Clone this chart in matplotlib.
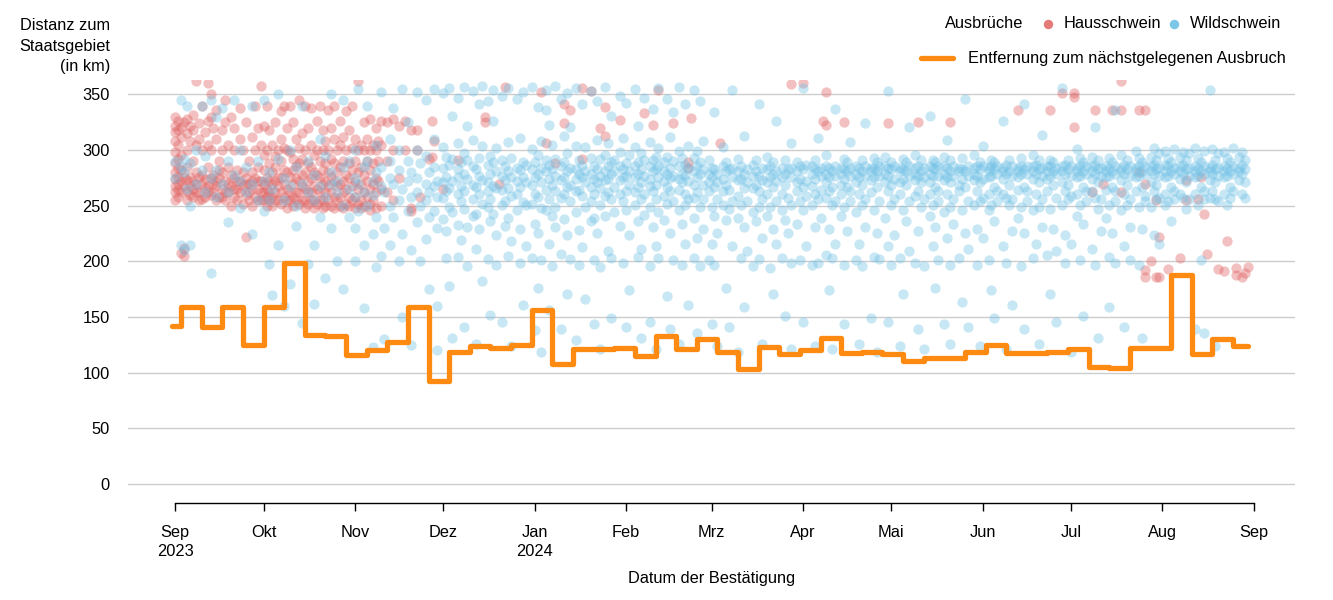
import matplotlib
matplotlib.use("Agg")
import matplotlib.pyplot as plt
import matplotlib.dates as mdates
from matplotlib.lines import Line2D
import pandas as pd

plt.rcParams['font.family'] = ['Liberation Sans', 'DejaVu Sans']

# Tag 0 = 1. September 2023
start = pd.Timestamp('2023-09-01')

# Ausbrüche Hausschwein: Tag -> Distanzen (km)
haus = {
    0: [330, 322, 316, 308, 298, 288, 280, 274, 268, 262, 255],
    1: [326, 318, 305, 292, 284, 276, 270, 264, 258],
    2: [321, 312, 296, 282, 272, 262, 208],
    3: [325, 276, 268, 212, 205],
    4: [328, 315, 300, 285, 273, 263, 255],
    5: [322, 308, 276, 268, 260],
    6: [332, 318, 290, 272, 265, 258],
    7: [305, 280, 270, 262, 362],
    8: [324, 310, 276, 262, 255],
    9: [340, 300, 278, 270, 256],
    10: [316, 274, 266, 258],
    11: [326, 305, 285, 268, 262, 360],
    12: [350, 330, 300, 275, 260],
    13: [320, 278, 262, 270],
    14: [336, 310, 272, 268, 255],
    15: [290, 275, 258, 282],
    16: [318, 300, 280, 265, 258],
    17: [345, 325, 272, 255, 262],
    18: [305, 285, 262, 270],
    19: [330, 278, 268, 250],
    20: [320, 300, 275, 258, 265],
    21: [282, 265, 255, 272],
    22: [338, 310, 272, 262],
    23: [300, 280, 268, 252],
    24: [325, 275, 260, 270, 222],
    25: [290, 270, 255, 262],
    26: [312, 280, 265, 250, 272],
    27: [340, 300, 275, 258],
    28: [320, 285, 265, 272, 255],
    29: [305, 272, 255, 262, 358],
    30: [322, 296, 282, 270, 262, 255],
    31: [340, 300, 275, 265, 258, 250],
    32: [318, 288, 272, 262, 255],
    33: [305, 280, 270, 258, 250],
    34: [325, 295, 285, 272, 262, 255],
    35: [300, 276, 268, 255],
    36: [335, 310, 290, 275, 262, 252],
    37: [340, 302, 282, 270, 258],
    38: [320, 300, 280, 265, 255, 248],
    39: [340, 298, 276, 262, 255],
    40: [325, 292, 282, 270, 258, 250],
    41: [310, 286, 275, 262, 255],
    42: [345, 302, 288, 272, 262, 252],
    43: [315, 292, 278, 268, 255],
    44: [340, 300, 280, 265, 255, 248],
    45: [320, 288, 272, 262, 252],
    46: [338, 305, 285, 275, 262, 255],
    47: [296, 280, 268, 255, 248],
    48: [326, 300, 278, 265, 252],
    49: [340, 290, 275, 262, 255],
    50: [318, 300, 282, 270, 255, 248],
    51: [308, 288, 272, 262, 250],
    52: [336, 300, 280, 268, 255],
    53: [320, 292, 276, 262, 250],
    54: [340, 310, 288, 272, 258, 248],
    55: [300, 280, 268, 255],
    56: [326, 305, 285, 270, 258, 250],
    57: [312, 290, 272, 262, 248],
    58: [335, 300, 278, 265, 252],
    59: [318, 288, 275, 258, 250],
    60: [340, 302, 282, 268, 255],
    61: [310, 290, 272, 258, 248],
    62: [362, 300, 280, 265, 252],
    63: [305, 285, 270, 255, 248],
    64: [325, 300, 278, 262, 250],
    65: [310, 290, 272, 258],
    66: [328, 300, 282, 265, 252, 246],
    67: [305, 288, 270, 255],
    68: [320, 300, 275, 262, 248],
    69: [308, 290, 272],
    70: [326, 305, 265, 250],
    72: [325, 290, 262],
    74: [328, 300, 255],
    76: [322, 275],
    78: [326, 300],
    80: [318, 248, 245],
    82: [318, 300],
    83: [258],
    86: [292],
    87: [326, 294],
    88: [308],
    91: [265],
    96: [291],
    105: [330, 325],
    110: [270],
    112: [357],
    124: [352],
    126: [306],
    129: [288],
    132: [341, 324],
    134: [336],
    138: [356, 292],
    141: [353],
    144: [320],
    146: [339, 313],
    151: [327],
    159: [333],
    162: [323],
    164: [354],
    169: [324],
    174: [289, 284],
    175: [329],
    185: [306],
    209: [359],
    213: [360],
    220: [326],
    221: [323, 352],
    227: [325],
    242: [324],
    252: [325],
    263: [325],
    286: [336],
    297: [336],
    301: [351],
    305: [351, 348, 321],
    311: [262],
    312: [336],
    315: [270],
    318: [336],
    321: [336, 362, 262],
    327: [336, 280],
    329: [336, 270, 192, 186],
    331: [200],
    333: [255, 186],
    334: [222, 186],
    337: [193],
    341: [203],
    343: [273, 255],
    347: [256],
    348: [276],
    349: [243],
    350: [207],
    354: [193],
    356: [191],
    357: [218],
    360: [194, 188],
    362: [186],
    363: [190],
    364: [195],
}

# Ausbrüche Wildschwein: Tag -> Distanzen (km)
wild = {
    0: [275, 290], 2: [285, 345, 215], 3: [292, 280, 210], 4: [265, 340],
    5: [288, 215, 250], 7: [300, 270], 9: [282, 340], 10: [262, 295],
    12: [345, 275, 190], 14: [282, 258, 330], 16: [338, 270], 18: [290, 235, 262],
    20: [345, 278], 22: [272, 300, 248], 24: [285, 262], 26: [340, 270, 225],
    28: [290, 255], 30: [345, 272, 245], 32: [280, 198, 255], 33: [265, 170],
    35: [292, 350, 215], 37: [275, 255, 160], 39: [300, 268, 180], 41: [285, 250, 232],
    43: [340, 270, 145], 45: [262, 290, 198], 47: [278, 255, 215, 162], 49: [310, 268, 240],
    51: [295, 258, 185], 53: [350, 280, 270, 230], 55: [272, 262, 200], 57: [345, 285, 250, 175],
    59: [290, 265, 240],
    61: [300, 275, 258, 230, 200], 62: [355, 270, 245], 64: [285, 262, 215, 158],
    65: [340, 290, 250], 67: [272, 260, 225, 123], 68: [305, 280, 240, 195],
    70: [352, 285, 268, 205], 71: [262, 230, 130], 73: [310, 290, 275, 250, 215],
    74: [338, 270, 240], 76: [300, 282, 255, 200], 77: [355, 265, 225, 150],
    79: [325, 290, 272, 245], 80: [280, 258, 210, 125], 82: [352, 300, 275, 262, 235],
    83: [288, 250, 200], 85: [345, 295, 270, 255, 220], 86: [280, 262, 240, 175],
    88: [355, 310, 285, 268, 245], 89: [272, 258, 230, 160, 120],
    91: [351, 303, 284, 271, 257, 238], 92: [294, 276, 263, 227, 203],
    93: [356, 287, 266, 249, 178], 94: [331, 292, 272, 244, 131],
    96: [347, 306, 283, 276, 261, 233, 204], 97: [289, 268, 254, 219],
    98: [357, 297, 279, 263, 247, 141], 99: [322, 291, 274, 231, 196],
    101: [353, 309, 286, 269, 256, 241], 102: [283, 267, 243, 211, 126],
    103: [341, 293, 277, 261, 229], 104: [358, 304, 273, 252, 182],
    106: [344, 287, 271, 263, 249, 202], 107: [295, 279, 256, 236, 152],
    108: [354, 326, 289, 268, 243], 109: [302, 281, 266, 224, 197],
    111: [349, 291, 277, 264, 251, 146], 112: [286, 273, 254, 232],
    113: [356, 307, 281, 266, 239, 205], 114: [293, 276, 259, 218, 124],
    116: [346, 284, 272, 261, 246], 117: [311, 282, 267, 229, 199],
    118: [352, 289, 276, 253, 161], 119: [287, 271, 251, 214],
    121: [357, 301, 283, 269, 252, 203], 122: [289, 276, 261, 234, 138],
    123: [339, 296, 279, 258, 226, 176], 124: [308, 284, 271, 248, 201, 119],
    126: [354, 336, 291, 281, 264, 246], 127: [323, 287, 274, 256, 216, 156],
    128: [305, 283, 269, 241, 196], 129: [358, 292, 277, 263, 249, 231],
    131: [346, 286, 273, 257, 207, 139], 132: [313, 289, 276, 261, 238],
    133: [351, 297, 281, 267, 224, 171], 134: [321, 284, 269, 254, 202],
    136: [356, 304, 283, 274, 263, 244, 129], 137: [291, 279, 264, 228, 197],
    138: [341, 287, 276, 259, 213], 139: [303, 281, 271, 249, 166],
    141: [353, 293, 279, 267, 254, 236], 142: [286, 274, 261, 239, 201, 144],
    143: [344, 309, 283, 271, 226], 144: [292, 277, 266, 251, 195, 121],
    146: [357, 296, 281, 273, 259, 241], 147: [306, 286, 274, 262, 209],
    148: [331, 289, 279, 256, 203, 149], 149: [291, 281, 267, 244],
    151: [349, 298, 286, 273, 261, 232], 152: [311, 283, 276, 254, 199],
    153: [342, 288, 277, 263, 246, 141], 154: [296, 281, 269, 224, 174],
    156: [355, 303, 286, 276, 262, 251], 157: [322, 289, 279, 267, 236, 204],
    158: [297, 283, 271, 256, 211, 131], 159: [347, 291, 277, 261, 242],
    161: [307, 286, 274, 268, 249, 196, 146], 162: [337, 291, 281, 263, 231],
    163: [294, 283, 269, 256, 214, 121], 164: [356, 302, 286, 276, 244, 203],
    166: [289, 281, 272, 259, 237], 167: [346, 294, 279, 267, 252, 169],
    168: [312, 284, 275, 263, 226, 139], 169: [334, 290, 277, 254, 201],
    171: [357, 299, 286, 274, 264, 246, 126], 172: [293, 279, 271, 234, 197],
    173: [341, 287, 278, 261, 251, 216], 174: [304, 284, 272, 256, 161],
    176: [354, 293, 281, 269, 257, 239, 203], 177: [299, 286, 276, 262, 221, 136],
    178: [344, 289, 279, 249, 196], 179: [308, 283, 269, 256, 229],
    181: [291, 279, 271, 263, 201], 182: [284, 276, 249, 216, 144],
    183: [334, 283, 267, 241, 197], 184: [279, 271, 256, 226, 124],
    186: [303, 286, 274, 263, 251], 187: [289, 281, 269, 237, 176],
    188: [283, 264, 247, 141], 189: [354, 284, 276, 254, 214],
    191: [292, 281, 273, 259, 239, 119], 192: [286, 274, 251, 203],
    193: [313, 279, 266, 231, 159], 194: [283, 271, 254, 209],
    196: [287, 277, 266, 244, 196], 197: [291, 281, 269, 236],
    198: [341, 277, 263, 249, 202], 199: [284, 273, 256, 221, 126],
    201: [294, 283, 271, 261, 241], 202: [286, 276, 249, 194],
    203: [289, 279, 267, 229, 171], 204: [326, 281, 272, 254, 216],
    206: [284, 276, 261, 246, 203], 207: [291, 279, 269, 237, 151],
    208: [283, 257, 226], 209: [306, 284, 276, 251, 199, 121],
    211: [289, 281, 271, 263, 234], 212: [286, 274, 254, 201],
    213: [356, 283, 267, 246, 146], 214: [287, 272, 259, 214],
    216: [286, 279, 268, 251, 197], 217: [291, 283, 274, 261, 231, 124],
    218: [311, 281, 256, 199], 219: [284, 277, 264, 239],
    221: [296, 286, 279, 271, 257, 206], 222: [284, 276, 263, 229, 174],
    223: [281, 267, 251, 203, 121], 224: [337, 286, 277, 254, 216],
    226: [284, 279, 269, 261, 241], 227: [292, 283, 274, 249, 197, 144],
    228: [289, 281, 267, 227], 229: [307, 284, 277, 263, 254],
    231: [286, 279, 271, 244, 201], 232: [284, 276, 261, 216, 126],
    233: [291, 281, 269, 251, 196], 234: [324, 286, 277, 256, 231],
    236: [284, 281, 273, 262, 149], 237: [293, 284, 276, 246, 204],
    238: [289, 281, 267, 226, 119], 239: [286, 277, 254, 202],
    241: [294, 286, 279, 271, 239], 242: [353, 284, 277, 263, 214, 146],
    243: [289, 283, 269, 251, 197], 244: [286, 274, 256, 224],
    246: [284, 281, 271, 261, 203, 124], 247: [292, 283, 274, 246, 171],
    248: [289, 281, 269, 236], 249: [321, 286, 277, 254, 209],
    251: [296, 284, 279, 273, 259, 199], 252: [286, 277, 263, 227, 139],
    253: [291, 281, 271, 249], 254: [284, 276, 256, 196, 121],
    256: [331, 286, 279, 271, 261, 241], 257: [291, 284, 277, 251, 214],
    258: [289, 283, 267, 231, 176], 259: [286, 277, 263, 254, 201],
    261: [294, 286, 279, 273, 244, 144], 262: [309, 284, 276, 261, 221],
    263: [291, 281, 271, 249, 197, 126], 264: [286, 277, 256, 234],
    266: [284, 281, 269, 263, 203], 267: [293, 283, 274, 246, 164],
    268: [346, 281, 267, 226], 269: [286, 277, 254, 211, 141],
    271: [296, 284, 279, 273, 251], 272: [286, 277, 263, 229, 197],
    273: [289, 283, 271, 254, 124], 274: [304, 286, 274, 257, 221],
    276: [284, 281, 276, 261, 246, 201], 277: [291, 286, 277, 251, 174],
    278: [289, 283, 267, 236, 149], 279: [286, 279, 263, 254],
    281: [326, 284, 281, 274, 261, 214], 282: [287, 279, 257, 199, 121],
    283: [291, 281, 269, 251], 284: [286, 277, 256, 227, 161],
    286: [284, 281, 276, 264, 239], 287: [293, 286, 279, 249, 196],
    288: [341, 283, 267, 226, 139], 289: [286, 279, 263, 254],
    291: [296, 286, 281, 274, 246, 203], 292: [287, 279, 261, 216],
    293: [291, 283, 271, 249, 126], 294: [314, 284, 277, 256, 231],
    296: [286, 281, 274, 263, 206], 297: [291, 286, 277, 247, 171],
    298: [289, 281, 269, 229], 299: [284, 279, 257, 209, 146],
    301: [356, 286, 281, 271, 251], 302: [287, 279, 263, 224, 199],
    303: [291, 283, 269, 256], 304: [286, 277, 259, 216, 119],
    306: [301, 284, 281, 276, 261, 241], 307: [293, 286, 277, 251, 201],
    308: [289, 281, 267, 234, 151], 309: [286, 279, 263, 254],
    311: [294, 286, 281, 274, 263, 211], 312: [321, 287, 279, 257, 197],
    313: [291, 283, 271, 247, 131], 314: [284, 277, 256, 227],
    316: [286, 281, 276, 264, 239], 317: [293, 284, 277, 251, 204, 159],
    318: [289, 281, 267, 226], 319: [336, 286, 279, 263, 254, 199],
    321: [296, 284, 281, 273, 246], 322: [287, 279, 261, 214, 141],
    323: [291, 283, 269, 251], 324: [286, 277, 256, 231, 201],
    326: [299, 284, 281, 276, 263], 327: [293, 286, 277, 249, 197],
    328: [289, 281, 267, 229, 131], 329: [286, 279, 259, 254],
    331: [294, 286, 281, 271, 249], 332: [302, 287, 279, 263, 224],
    333: [291, 283, 269, 256], 334: [297, 284, 277, 257, 216],
    336: [299, 287, 281, 276, 261, 251], 337: [293, 286, 277, 254],
    338: [289, 281, 267, 236], 339: [301, 284, 279, 263, 256],
    341: [294, 286, 281, 274, 261], 342: [298, 287, 279, 257],
    343: [291, 283, 271, 247], 344: [297, 284, 277, 256],
    346: [302, 286, 281, 276, 261, 139], 347: [293, 284, 277, 251],
    348: [289, 281, 267, 201], 349: [299, 286, 279, 263, 256, 136],
    351: [354, 284, 281, 273, 257], 352: [301, 287, 279, 263],
    353: [291, 283, 271, 256, 124], 354: [297, 284, 277, 254],
    356: [298, 286, 281, 276, 261], 357: [293, 284, 277, 251],
    358: [289, 281, 267, 257], 359: [302, 286, 279, 263],
    361: [294, 284, 281, 273], 362: [298, 287, 279, 261],
    363: [291, 283, 271, 257],
}

# Entfernung zum nächstgelegenen Ausbruch, wöchentlich (Wochenbeginn Sonntag)
step_dates = ['2023-08-31'] + [str(d.date()) for d in pd.date_range('2023-09-03', periods=52, freq='7D')] + ['2024-08-30']
step_km = [142, 159, 141, 159, 125, 159, 199, 134, 133, 116, 120, 128, 159, 93,
           119, 124, 122, 125, 156, 108, 121, 121, 122, 115, 133, 121, 130, 119,
           103, 123, 117, 120, 131, 118, 119, 117, 111, 113, 113, 119, 125, 118,
           118, 119, 121, 105, 104, 122, 122, 188, 117, 130, 124]
step_km = step_km + [step_km[-1]]

month_ticks = pd.date_range('2023-09-01', '2024-09-01', freq='MS')
month_labels = ['Sep\n2023', 'Okt', 'Nov', 'Dez', 'Jan\n2024', 'Feb', 'Mrz',
                'Apr', 'Mai', 'Jun', 'Jul', 'Aug', 'Sep']


def to_xy(d):
    xs, ys = [], []
    for day, kms in d.items():
        for km in kms:
            xs.append(start + pd.Timedelta(days=day))
            ys.append(km)
    return xs, ys


RED = '#e06363'
BLUE = '#6ec0e6'
ORANGE = '#ff8a12'
FS = 11.8

fig = plt.figure(figsize=(13.33, 6.0), dpi=100)
ax = fig.add_axes([128 / 1333, 1 - 503 / 600, (1295 - 128) / 1333, (503 - 80) / 600])

hx, hy = to_xy(haus)
wx, wy = to_xy(wild)
ax.scatter(hx, hy, s=55, color=RED, alpha=0.4, linewidths=0, zorder=2)
ax.scatter(wx, wy, s=55, color=BLUE, alpha=0.38, linewidths=0, zorder=2)

ax.plot(pd.to_datetime(step_dates), step_km, drawstyle='steps-post', color=ORANGE,
        lw=3.8, solid_capstyle='round', solid_joinstyle='round', zorder=4)

ax.set_xlim(pd.Timestamp('2023-08-16'), pd.Timestamp('2024-09-15'))
ax.set_ylim(-17, 363)
ax.set_yticks(range(0, 351, 50))
ax.grid(axis='y', color='#cccccc', lw=1)
ax.set_axisbelow(True)
for s in ['left', 'right', 'top']:
    ax.spines[s].set_visible(False)
ax.spines['bottom'].set_bounds(mdates.date2num(month_ticks[0]), mdates.date2num(month_ticks[-1]))
ax.spines['bottom'].set_linewidth(1)
ax.set_xticks(month_ticks)
ax.set_xticklabels(month_labels, fontsize=FS, linespacing=1.3)
ax.tick_params(axis='x', length=6, width=1, pad=10, color='black')
ax.tick_params(axis='y', length=0, pad=13, labelsize=FS)

fig.text(110 / 1333, 1 - 25 / 600, 'Distanz zum', ha='right', va='center', fontsize=FS)
fig.text(110 / 1333, 1 - 46 / 600, 'Staatsgebiet', ha='right', va='center', fontsize=FS)
fig.text(110 / 1333, 1 - 67 / 600, '(in km)', ha='right', va='center', fontsize=FS)
fig.text(712 / 1333, 1 - 578 / 600, 'Datum der Bestätigung', ha='center', va='center', fontsize=FS)

# Legende
fig.text(945 / 1333, 1 - 23 / 600, 'Ausbrüche', ha='left', va='center', fontsize=FS)
fig.add_artist(Line2D([1048 / 1333], [1 - 24 / 600], marker='o', ms=6.8, color=RED,
                      alpha=0.85, lw=0, markeredgewidth=0, transform=fig.transFigure))
fig.text(1064 / 1333, 1 - 23 / 600, 'Hausschwein', ha='left', va='center', fontsize=FS)
fig.add_artist(Line2D([1174 / 1333], [1 - 24 / 600], marker='o', ms=6.8, color=BLUE,
                      alpha=0.9, lw=0, markeredgewidth=0, transform=fig.transFigure))
fig.text(1190 / 1333, 1 - 23 / 600, 'Wildschwein', ha='left', va='center', fontsize=FS)
fig.add_artist(Line2D([921 / 1333, 953 / 1333], [1 - 58 / 600, 1 - 58 / 600], color=ORANGE,
                      lw=3.8, solid_capstyle='round', transform=fig.transFigure))
fig.text(968 / 1333, 1 - 58 / 600, 'Entfernung zum nächstgelegenen Ausbruch', ha='left',
         va='center', fontsize=FS)

fig.savefig('out.png', dpi=100)
